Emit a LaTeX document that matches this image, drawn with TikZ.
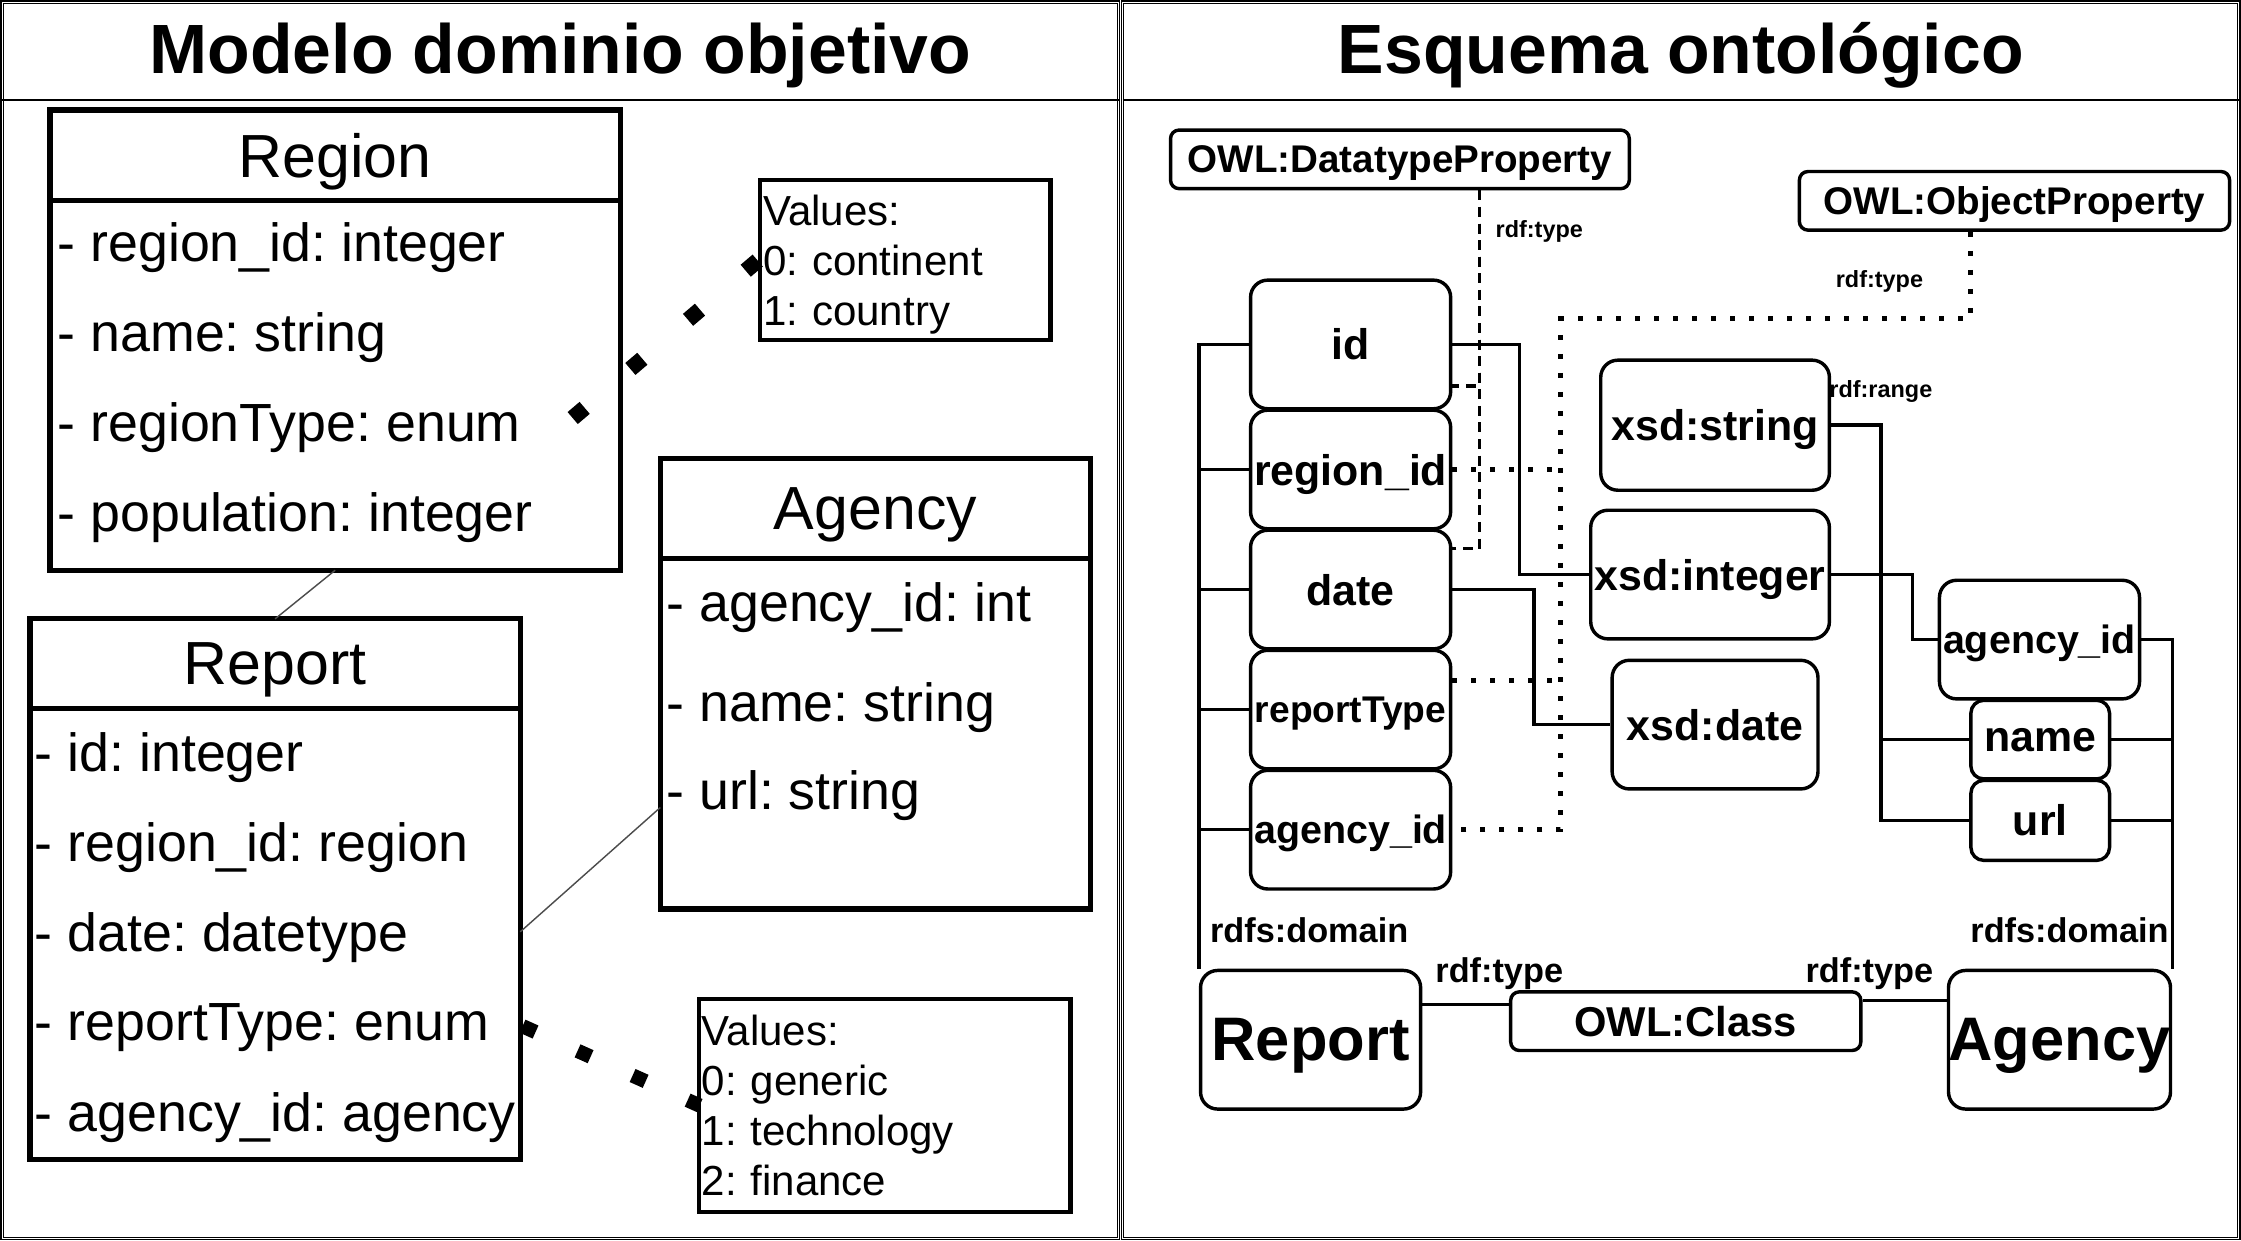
\documentclass[tikz,border=0pt]{standalone}
\usepackage{fontspec}
\setmainfont{Liberation Sans}
\usetikzlibrary{positioning}
\frenchspacing

\tikzset{
  panel/.style={double, double distance=0.5pt, line width=0.4pt},
  umlhead/.style={draw, line width=1.8pt, outer sep=0pt, text depth=0pt, font=\fontsize{21.3}{24}\selectfont},
  umlbody/.style={draw, line width=1.8pt, outer sep=0pt, anchor=north},
  attr/.style={anchor=west, inner sep=0pt, text depth=0pt, font=\fontsize{18.8}{22}\selectfont},
  valbox/.style={draw, line width=1.5pt, align=left, inner xsep=1pt, inner ysep=0pt, font=\fontsize{14.7}{17.5}\selectfont},
  assoc/.style={line width=0.5pt, black!70},
  onto/.style={draw, rounded corners=6pt, line width=1.2pt, inner sep=0pt, text depth=0pt, font=\bfseries\fontsize{15}{18}\selectfont},
  owlbox/.style={draw, rounded corners=3pt, line width=1.2pt, inner sep=0pt, text depth=0pt, font=\bfseries\fontsize{13.5}{16}\selectfont},
  rel/.style={line width=1.2pt},
  typeline/.style={line width=1.15pt, dash pattern=on 3.5pt off 2.3pt},
  objline/.style={line width=1.75pt, dash pattern=on 1.75pt off 4.9pt},
  smalllbl/.style={inner sep=0pt, text depth=0pt, font=\bfseries\fontsize{8.2}{10}\selectfont},
  lbl/.style={inner sep=0pt, text depth=0pt, font=\bfseries\fontsize{12}{14}\selectfont}
}

\begin{document}
\begin{tikzpicture}[x=0.5pt,y=-0.5pt]
  \useasboundingbox (0,0) rectangle (1568,868.3);

  % two panels
  \draw[panel] (1.6,1.6) rectangle (782.6,866.6);
  \draw[panel] (785.4,1.6) rectangle (1566.4,866.6);
  \draw[line width=0.5pt] (1.6,70) -- (782.6,70);
  \draw[line width=0.5pt] (785.4,70) -- (1566.4,70);
  \node[font=\bfseries\fontsize{24.4}{28}\selectfont] (titleL) at (392,39) {Modelo dominio objetivo};
  \node[font=\bfseries\fontsize{24.4}{28}\selectfont] (titleR) at (1176,39) {Esquema ontológico};

  % ---- domain model ----
  \node[umlhead, minimum width=199.5pt, minimum height=31.5pt] (reghead) at (234.5,108.5) {Region};
  \node[umlbody, minimum width=199.5pt, minimum height=129.5pt] (regbody) at (reghead.south) {};
  \foreach \a [count=\i] in {region\_id: integer, name: string, regionType: enum, population: integer}
    \node[attr] (regattr\i) at (40,106+63*\i) {- \a};

  \node[umlhead, minimum width=171.5pt, minimum height=31.5pt] (rephead) at (192.5,464.5) {Report};
  \node[umlbody, minimum width=171.5pt, minimum height=157.5pt] (repbody) at (rephead.south) {};
  \foreach \a [count=\i] in {id: integer, region\_id: region, date: datetype, reportType: enum, agency\_id: agency}
    \node[attr] (repattr\i) at (24,463+63*\i) {- \a};

  \node[umlhead, minimum width=150.5pt, minimum height=35pt] (aghead) at (612.5,356) {Agency};
  \node[umlbody, minimum width=150.5pt, minimum height=122.5pt] (agbody) at (aghead.south) {};
  \node[attr] (agattr1) at (466,421) {- agency\_id: int};
  \node[attr] (agattr2) at (466,491) {- name: string};
  \node[attr] (agattr3) at (466,553) {- url: string};

  \node[valbox, minimum width=101.5pt, minimum height=56pt, text width=99.5pt, text depth=35pt] (regvals) at (633.5,182) {Values:\\0: continent\\1: country};
  \node[valbox, minimum width=130pt, minimum height=74.5pt, text width=128pt, text depth=52.5pt] (repvals) at (619,773.5) {Values:\\0: generic\\1: technology\\2: finance};

  \draw[assoc] (regbody.south) -- (rephead.north);
  \draw[assoc] ([yshift=0.75pt]repbody.east) -- ([yshift=-25.75pt]agbody.west);

  \coordinate (regtype) at (400.7,292.5);
  \coordinate (reptype) at (365.6,718);
  \draw[line width=5.5pt, dash pattern=on 5.5pt off 21pt] (regtype) -- (regvals.west);
  \draw[line width=5pt, dash pattern=on 5pt off 16.1pt] (reptype) -- ([xshift=1pt]repvals.west);

  % ---- ontology ----
  \node[owlbox, minimum width=160.5pt, minimum height=20.5pt] (dtp) at (979.5,111.5) {OWL:DatatypeProperty};
  \node[owlbox, minimum width=150.5pt, minimum height=20.5pt] (objp) at (1409.5,140.5) {OWL:ObjectProperty};

  \node[onto, minimum width=70pt, minimum height=45pt] (pid) at (945,241) {id};
  \node[onto, minimum width=70pt, minimum height=41.5pt] (pregion) at (945,328.5) {region\_id};
  \node[onto, minimum width=70pt, minimum height=41.5pt] (pdate) at (945,412.5) {date};
  \node[onto, minimum width=70pt, minimum height=41.5pt, font=\bfseries\fontsize{13}{16}\selectfont] (ptype) at (945,496.5) {reportType};
  \node[onto, minimum width=70pt, minimum height=41.5pt, font=\bfseries\fontsize{13.8}{16}\selectfont] (pagency) at (945,580.5) {agency\_id};

  \node[onto, minimum width=80pt, minimum height=45.5pt] (xstr) at (1200,297.5) {xsd:string};
  \node[onto, minimum width=83.5pt, minimum height=45pt] (xint) at (1196.5,402) {xsd:integer};
  \node[onto, minimum width=72pt, minimum height=45pt] (xdate) at (1200,507) {xsd:date};

  \node[onto, minimum width=70pt, minimum height=41.5pt, font=\bfseries\fontsize{13.8}{16}\selectfont] (aid) at (1427,447.5) {agency\_id};
  \node[onto, rounded corners=4.5pt, minimum width=48.5pt, minimum height=27.5pt] (aname) at (1427.5,517.5) {name};
  \node[onto, rounded corners=4.5pt, minimum width=48.5pt, minimum height=28pt] (aurl) at (1427.5,574) {url};

  \node[onto, minimum width=77pt, minimum height=48.5pt, font=\bfseries\fontsize{21.5}{24}\selectfont] (rep) at (917,727.5) {Report};
  \node[onto, minimum width=77pt, minimum height=48.5pt, font=\bfseries\fontsize{21.5}{24}\selectfont] (agc) at (1441,727.5) {Agency};
  \node[owlbox, minimum width=122.5pt, minimum height=20.5pt, font=\bfseries\fontsize{14.6}{17}\selectfont] (cls) at (1179.5,714.5) {OWL:Class};

  % domains
  \draw[rel] (rep.north west) |- (pid.west);
  \foreach \n in {pregion,pdate,ptype,pagency}
    \draw[rel] (rep.north west) |- (\n.west);
  \foreach \n in {aid,aname,aurl}
    \draw[rel] (agc.north east) |- (\n.east);
  \node[lbl] (domL) at (916,651) {rdfs:domain};
  \node[lbl] (domR) at (1448,651) {rdfs:domain};

  % rdf:type to OWL:Class
  \draw[rel] ([yshift=12.25pt]rep.east) -- ([yshift=12.25pt]rep.east -| cls.west);
  \draw[rel] ([yshift=13.75pt]agc.west) -- ([yshift=13.75pt]agc.west -| cls.east);
  \node[lbl] (typL) at (1049,679) {rdf:type};
  \node[lbl] (typR) at (1308,679) {rdf:type};

  % ranges
  \draw[rel] (pid.east) -- ++(23.5pt,0) |- (xint.west);
  \draw[rel] (pdate.east) -- ++(28.5pt,0) |- (xdate.west);
  \draw[rel] (xstr.east) -- ++(17.5pt,0) |- (aname.west);
  \draw[rel] (xstr.east) -- ++(17.5pt,0) |- (aurl.west);
  \draw[rel] (xint.east) -- ++(28.5pt,0) |- (aid.west);
  \node[smalllbl] (rng) at (1316,272) {rdf:range};

  % property types
  \coordinate (dtpdrop) at ([xshift=27.75pt]dtp.south);
  \draw[typeline] (dtpdrop) |- ([yshift=14.25pt]pdate.east);
  \draw[typeline] (dtpdrop) |- ([yshift=-14.5pt]pid.east);
  \node[smalllbl] (typ1) at (1077,160) {rdf:type};

  \coordinate (objturn) at (1092,223);
  \draw[objline] ([xshift=-15.25pt]objp.south) |- (objturn) |- (pagency.east);
  \draw[objline] (pregion.east) -- (pregion.east -| objturn);
  \draw[objline] ([yshift=10.25pt]ptype.east) -- ([yshift=10.25pt]ptype.east -| objturn);
  \node[smalllbl] (typ2) at (1315,195) {rdf:type};
\end{tikzpicture}
\end{document}
